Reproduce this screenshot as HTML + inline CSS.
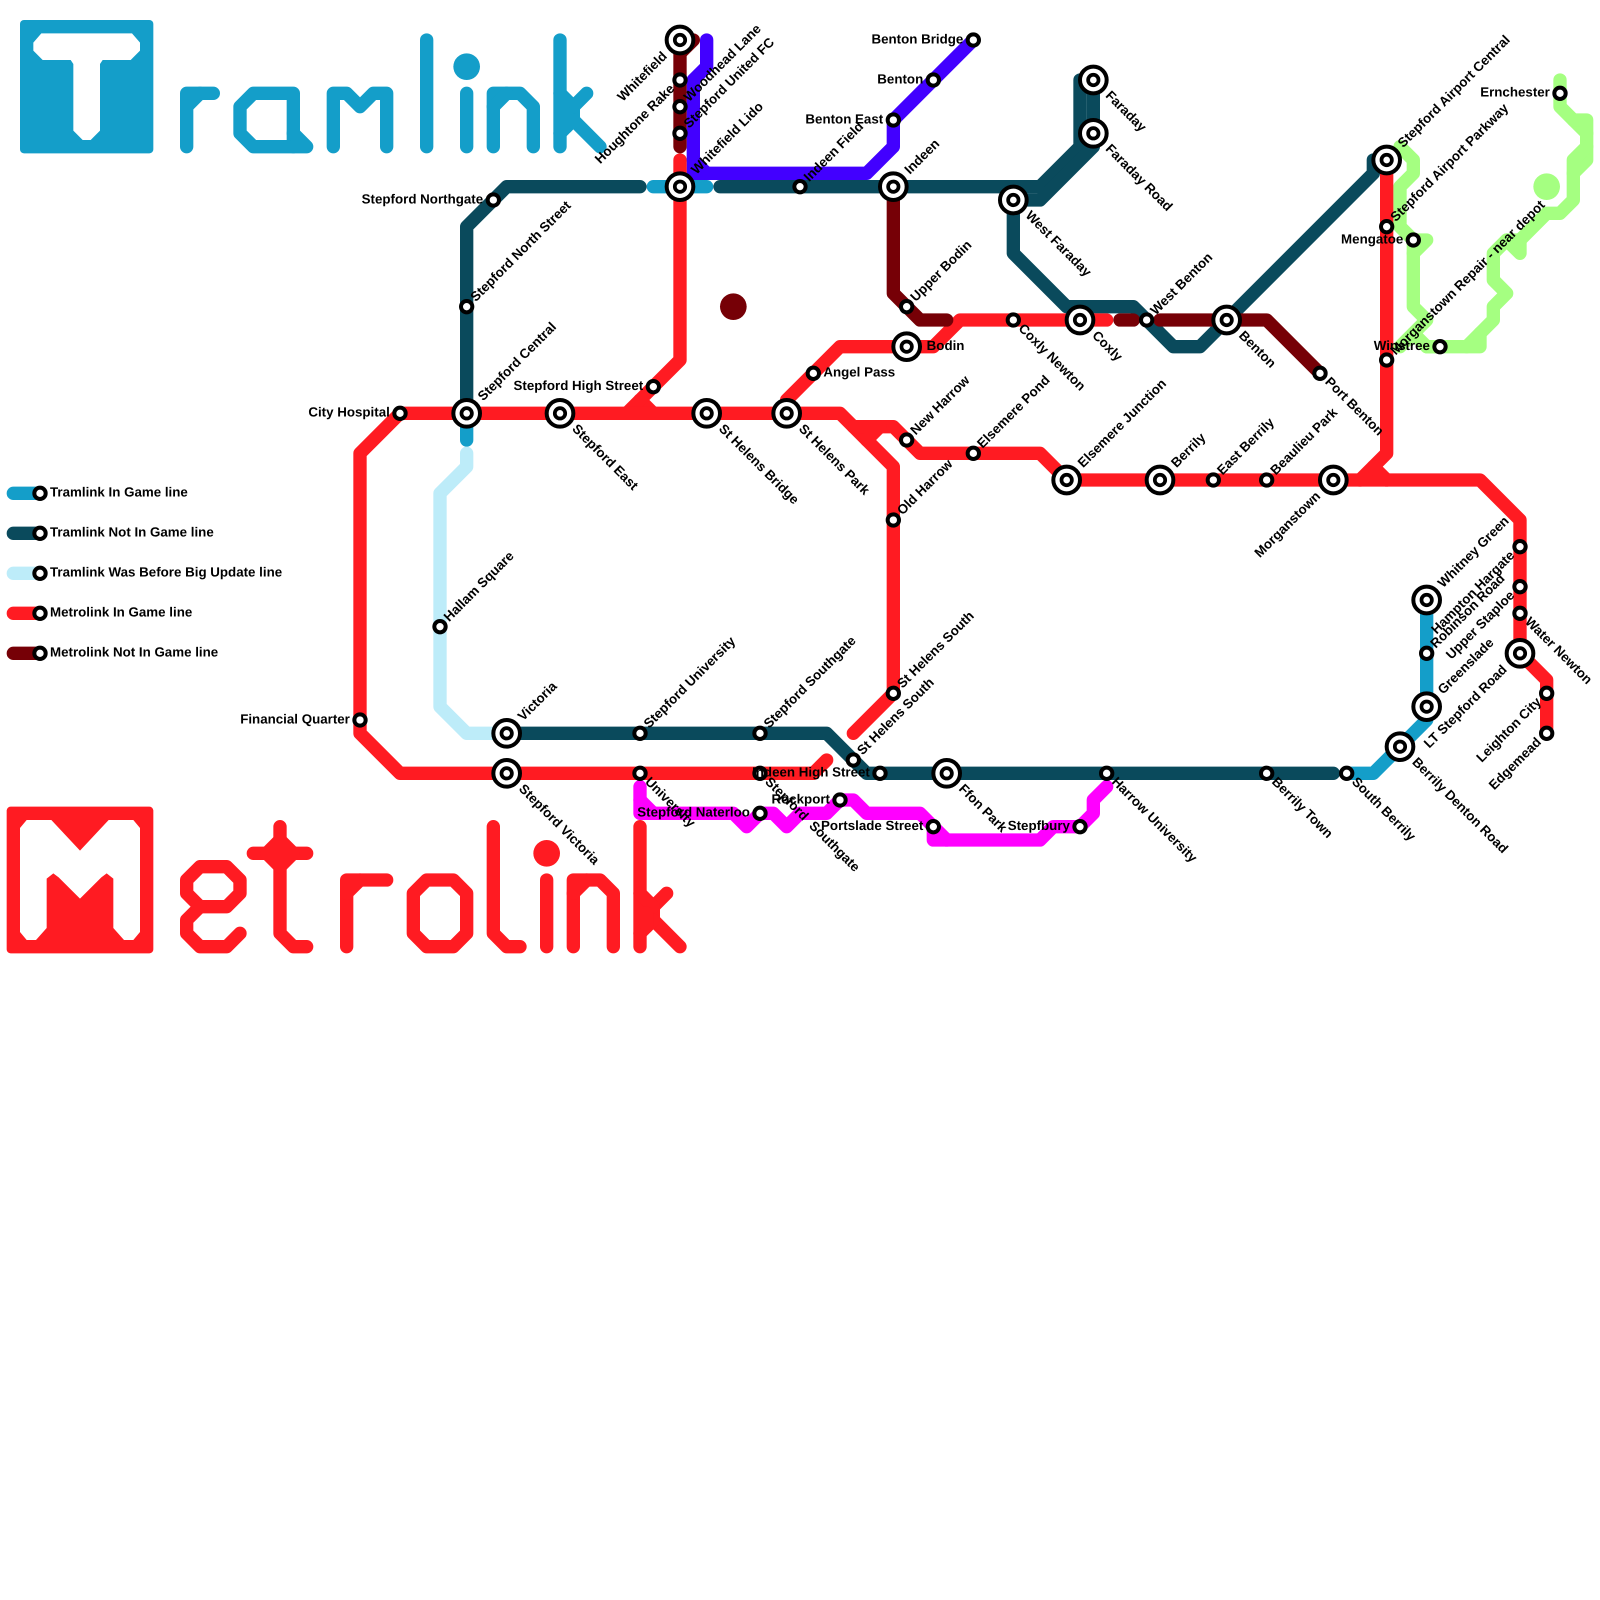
<!DOCTYPE html>
<html><head><meta charset="utf-8"><style>
html,body{margin:0;padding:0;background:#fff}
svg{display:block;width:1600px;height:1600px}
text{font-family:"Liberation Sans",Arial,sans-serif;font-weight:bold;font-size:1px;fill:#000;white-space:pre;text-rendering:geometricPrecision}
polyline{fill:none;stroke-width:1;stroke-linecap:round;stroke-linejoin:round}
.g polyline{stroke:#a5ff81}.l polyline{stroke:#bdecf9}.b polyline{stroke:#149ec9}.t polyline{stroke:#0a4a5c}.p polyline{stroke:#4200ff}.m polyline{stroke:#ff00ff}.r polyline{stroke:#ff1b22}.d polyline{stroke:#760006}
.e{text-anchor:end}
</style></head><body>
<svg xmlns="http://www.w3.org/2000/svg" viewBox="0 0 120 120">
<defs>
<g id="s"><circle r=".425" fill="#fff" stroke="#000" stroke-width=".3"/></g>
<g id="i"><circle r="1" fill="#fff" stroke="#000" stroke-width=".3"/><circle r=".39" fill="#fff" stroke="#000" stroke-width=".28"/></g>
</defs>

<!-- Tramlink logo -->
<rect x="1.5" y="1.5" width="10" height="10" rx=".3" fill="#149ec9"/>
<polygon fill="#fff" points="3.1,2.5 9.9,2.5 10.5,3.2 10.5,3.8 9.8,4.5 7.7,4.5 7.5,4.8 7.5,9.8 6.8,10.5 6.2,10.5 5.5,9.8 5.5,4.8 5.3,4.5 3.2,4.5 2.5,3.8 2.5,3.2"/>
<g class="b">
<polyline points="14,11 14,7 16,7"/><polyline points="14,8 15,7"/>
<polyline points="19,7 22,7 22,11 19,11 18,10 18,8 19,7"/><polyline points="22,10 23,11 22,11"/>
<polyline points="25,11 25,7 26,7 27,8 28,7 29,7 29,11"/>
<polyline points="32,3 32,11"/>
<polyline points="35,7 35,11"/>
<polyline points="37,11 37,7 39,7 40,8 40,11"/><polyline points="38,7 37,8"/>
<polyline points="42,3 42,11"/><polyline points="44,7 43,8 43,9 45,11"/><polyline points="42,7 43,8"/><polyline points="42,10 43,9"/><polyline points="42.5,8.5 42.5,9.5"/>
</g>
<circle cx="35" cy="5" r="1" fill="#149ec9"/>

<!-- Metrolink logo -->
<rect x=".5" y="60.5" width="11" height="11" rx=".3" fill="#ff1b22"/>
<polygon fill="#fff" points="2,61.5 3.85,61.5 6,63.8 8.15,61.5 10,61.5 10.5,62.1 10.5,69.9 10,70.5 9.3,70.5 8.5,69.6 8.5,65.9 8,65.5 7.6,65.8 6,67.4 4.4,65.8 4,65.5 3.5,65.9 3.5,69.6 2.7,70.5 2,70.5 1.5,69.9 1.5,62.1"/>
<g class="r">
<polyline points="15,65 17,65 18,66 18,67 17,68 15,68 14,67 14,66 15,65"/><polyline points="15,68 14,69 14,70 15,71 17,71 18,70"/>
<polyline points="21,62 21,70 22,71 23,71"/><polyline points="19,64 23,64"/><polyline points="20,64 21,63 22,64 21,65 20,64"/>
<polyline points="26,71 26,66 29,66"/><polyline points="27,66 26,67"/>
<polyline points="32,66 34,66 35,67 35,70 34,71 32,71 31,70 31,67 32,66"/>
<polyline points="37,62 37,70 38,71 39,71"/>
<polyline points="41,66 41,71"/>
<polyline points="43,71 43,66 45,66 46,67 46,71"/><polyline points="44,66 43,67"/>
<polyline points="48,62 48,71"/><polyline points="50,67 49,68 49,69 51,71"/><polyline points="48,67 49,68"/><polyline points="48,70 49,69"/><polyline points="48.5,68.5 48.5,69.5"/>
</g>
<circle cx="41" cy="64" r="1" fill="#ff1b22"/>

<!-- Legend lines -->
<g class="b"><polyline points="1,37 3,37"/></g>
<g class="t"><polyline points="1,40 3,40"/></g>
<g class="l"><polyline points="1,43 3,43"/></g>
<g class="r"><polyline points="1,46 3,46"/></g>
<g class="d"><polyline points="1,49 3,49"/></g>

<!-- Green -->
<g class="g">
<polyline points="117,6 117,8 119,10"/><polyline points="118,9 119,9 119,12 118,13"/>
<polyline points="119,11 118,12 118,15 117,16 116,16 114,18 113,18 112,19 112,21 113,22 112,23 112,24 110,26"/>
<polyline points="114,18 114,19 113,18"/>
<polyline points="111,25 111,26 107,26 106,25"/><polyline points="108,26 107,26"/>
<polyline points="105,11 106,12 106,13 105,14 105,17 106,18 107,18 106,19"/>
<polyline points="106,18 106,23 107,24 105,26"/>
</g>
<circle cx="116" cy="14" r="1" fill="#a5ff81"/>

<!-- Light blue -->
<g class="l"><polyline points="35,34 35,35 33,37 33,53 35,55 38,55"/></g>

<!-- Blue -->
<g class="b">
<polyline points="35,31 35,33"/>
<polyline points="49,14 53,14"/>
<polyline points="101,58 103,58 105,56 107,54 107,45"/>
</g>

<!-- Teal -->
<g class="t">
<polyline points="35,31 35,17 38,14 48,14"/>
<polyline points="54,14 78,14 81,11 81,6"/>
<polyline points="76,15 78,15 82,11 82,6"/>
<polyline points="76,15 76,19 80,23 85,23 88,26 90,26 103,13 103,12 104,12"/>
<polyline points="38,55 62,55 65,58 100,58"/>
</g>

<!-- Purple -->
<g class="p">
<polyline points="53,3 53,5 52,6 52,13 65,13 67,11 67,9 73,3"/>
<polyline points="52,12 53,13"/>
</g>

<!-- Magenta -->
<g class="m">
<polyline points="48,59 48,61 55,61 56,62 57,61 58,61 59,62 60,61 62,61 63,60 64,60 65,61 69,61 70,62 70,63 78,63 79,62 81,62 82,61 82,60 83,59"/>
<polyline points="48,60 49,61"/>
<polyline points="70,62 71,63"/>
</g>

<!-- Red -->
<g class="r">
<polyline points="48,30 49,31"/>
<polyline points="51,12 51,27 47,31"/>
<polyline points="61,58 62,57"/>
<polyline points="30,31 63,31 67,35 67,52 64,55"/>
<polyline points="30,31 27,34 27,55 30,58 61,58"/>
<polyline points="64,32 67,32 69,34 78,34 80,36 111,36 114,39 114,49 116,51 116,55"/>
<polyline points="66,32 65,33"/>
<polyline points="59,31 59,30 63,26 70,26 72,24 83,24"/>
<polyline points="104,12 104,34 102,36"/>
<polyline points="103,35 104,36"/>
</g>

<!-- Dark red -->
<g class="d">
<polyline points="51,3 51,11"/><polyline points="52,3 51,4"/>
<polyline points="67,14 67,22 69,24 71,24"/>
<polyline points="84,24 85,24"/>
<polyline points="87,24 95,24 99,28"/>
</g>
<circle cx="55" cy="23" r="1" fill="#760006"/>

<!-- Stations -->
<use href="#s" x="3" y="37"/><use href="#s" x="3" y="40"/><use href="#s" x="3" y="43"/><use href="#s" x="3" y="46"/><use href="#s" x="3" y="49"/>
<use href="#s" x="37" y="15"/><use href="#s" x="35" y="23"/><use href="#s" x="30" y="31"/><use href="#s" x="27" y="54"/><use href="#s" x="33" y="47"/>
<use href="#s" x="49" y="29"/><use href="#s" x="51" y="6"/><use href="#s" x="51" y="8"/><use href="#s" x="51" y="10"/><use href="#s" x="60" y="14"/>
<use href="#s" x="73" y="3"/><use href="#s" x="70" y="6"/><use href="#s" x="67" y="9"/><use href="#s" x="68" y="23"/><use href="#s" x="61" y="28"/>
<use href="#s" x="76" y="24"/><use href="#s" x="86" y="24"/><use href="#s" x="99" y="28"/><use href="#s" x="68" y="33"/><use href="#s" x="73" y="34"/>
<use href="#s" x="67" y="39"/><use href="#s" x="67" y="52"/><use href="#s" x="64" y="57"/><use href="#s" x="48" y="55"/><use href="#s" x="57" y="55"/>
<use href="#s" x="48" y="58"/><use href="#s" x="57" y="58"/><use href="#s" x="66" y="58"/><use href="#s" x="57" y="61"/><use href="#s" x="63" y="60"/>
<use href="#s" x="70" y="62"/><use href="#s" x="81" y="62"/><use href="#s" x="83" y="58"/><use href="#s" x="95" y="58"/><use href="#s" x="101" y="58"/>
<use href="#s" x="91" y="36"/><use href="#s" x="95" y="36"/><use href="#s" x="104" y="17"/><use href="#s" x="106" y="18"/><use href="#s" x="104" y="27"/>
<use href="#s" x="108" y="26"/><use href="#s" x="117" y="7"/><use href="#s" x="114" y="41"/><use href="#s" x="114" y="44"/><use href="#s" x="114" y="46"/>
<use href="#s" x="116" y="52"/><use href="#s" x="116" y="55"/><use href="#s" x="107" y="49"/>
<use href="#i" x="35" y="31"/><use href="#i" x="42" y="31"/><use href="#i" x="53" y="31"/><use href="#i" x="59" y="31"/><use href="#i" x="51" y="3"/>
<use href="#i" x="51" y="14"/><use href="#i" x="67" y="14"/><use href="#i" x="76" y="15"/><use href="#i" x="82" y="6"/><use href="#i" x="82" y="10"/>
<use href="#i" x="68" y="26"/><use href="#i" x="81" y="24"/><use href="#i" x="92" y="24"/><use href="#i" x="80" y="36"/><use href="#i" x="87" y="36"/>
<use href="#i" x="100" y="36"/><use href="#i" x="104" y="12"/><use href="#i" x="38" y="55"/><use href="#i" x="38" y="58"/><use href="#i" x="71" y="58"/>
<use href="#i" x="107" y="45"/><use href="#i" x="107" y="53"/><use href="#i" x="105" y="56"/><use href="#i" x="114" y="49"/>

<!-- Legend text -->
<text x="3.75" y="37.25">Tramlink In Game line</text>
<text x="3.75" y="40.25">Tramlink Not In Game line</text>
<text x="3.75" y="43.25">Tramlink Was Before Big Update line</text>
<text x="3.75" y="46.25">Metrolink In Game line</text>
<text x="3.75" y="49.25">Metrolink Not In Game line</text>

<!-- Horizontal labels -->
<text x="61.75" y="28.25">Angel Pass</text>
<text x="69.5" y="26.25">Bodin</text>
<g class="e">
<text x="36.25" y="15.25">Stepford Northgate</text>
<text x="29.25" y="31.25">City Hospital</text>
<text x="48.25" y="29.25">Stepford High Street</text>
<text x="26.25" y="54.25">Financial Quarter</text>
<text x="72.25" y="3.25">Benton Bridge</text>
<text x="69.25" y="6.25">Benton</text>
<text x="66.25" y="9.25">Benton East</text>
<text x="65.25" y="58.25">Indeen High Street</text>
<text x="62.25" y="60.25">Rockport</text>
<text x="56.25" y="61.25">Stepford Naterloo</text>
<text x="69.25" y="62.25">Portslade Street</text>
<text x="80.25" y="62.25">Stepfbury</text>
<text x="105.25" y="18.25">Mengatoe</text>
<text x="107.25" y="26.25">Winstree</text>
<text x="116.25" y="7.25">Ernchester</text>
</g>

<!-- NE labels: small -->
<text transform="translate(35 23) rotate(-45)" x=".72" y=".25">Stepford North Street</text>
<text transform="translate(33 47) rotate(-45)" x=".72" y=".25">Hallam Square</text>
<text transform="translate(48 55) rotate(-45)" x=".72" y=".25">Stepford University</text>
<text transform="translate(57 55) rotate(-45)" x=".72" y=".25">Stepford Southgate</text>
<text transform="translate(67 52) rotate(-45)" x=".72" y=".25">St Helens South</text>
<text transform="translate(64 57) rotate(-45)" x=".72" y=".25">St Helens South</text>
<text transform="translate(51 8) rotate(-45)" x=".72" y=".25">Woodhead Lane</text>
<text transform="translate(51 10) rotate(-45)" x=".72" y=".25">Stepford United FC</text>
<text transform="translate(60 14) rotate(-45)" x=".72" y=".25">Indeen Field</text>
<text transform="translate(68 23) rotate(-45)" x=".72" y=".25">Upper Bodin</text>
<text transform="translate(68 33) rotate(-45)" x=".72" y=".25">New Harrow</text>
<text transform="translate(73 34) rotate(-45)" x=".72" y=".25">Elsemere Pond</text>
<text transform="translate(67 39) rotate(-45)" x=".72" y=".25">Old Harrow</text>
<text transform="translate(91 36) rotate(-45)" x=".72" y=".25">East Berrily</text>
<text transform="translate(95 36) rotate(-45)" x=".72" y=".25">Beaulieu Park</text>
<text transform="translate(86 24) rotate(-45)" x=".72" y=".25">West Benton</text>
<text transform="translate(104 17) rotate(-45)" x=".72" y=".25">Stepford Airport Parkway</text>
<text transform="translate(104 27) rotate(-45)" x=".72" y=".25">Morganstown Repair - near depot</text>
<text transform="translate(107 49) rotate(-45)" x=".72" y=".25">Robinson Road</text>
<!-- NE labels: interchange -->
<text transform="translate(35 31) rotate(-45)" x="1.5" y=".25">Stepford Central</text>
<text transform="translate(38 55) rotate(-45)" x="1.5" y=".25">Victoria</text>
<text transform="translate(51 14) rotate(-45)" x="1.5" y=".25">Whitefield Lido</text>
<text transform="translate(67 14) rotate(-45)" x="1.5" y=".25">Indeen</text>
<text transform="translate(80 36) rotate(-45)" x="1.5" y=".25">Elsemere Junction</text>
<text transform="translate(87 36) rotate(-45)" x="1.5" y=".25">Berrily</text>
<text transform="translate(104 12) rotate(-45)" x="1.5" y=".25">Stepford Airport Central</text>
<text transform="translate(107 45) rotate(-45)" x="1.5" y=".25">Whitney Green</text>
<text transform="translate(107 53) rotate(-45)" x="1.5" y=".25">Greenslade</text>

<!-- Labels toward lower-left, rotated -45, end-anchored -->
<g class="e">
<text transform="translate(51 3) rotate(-45)" x="-1.55" y=".25">Whitefield</text>
<text transform="translate(100 36) rotate(-45)" x="-1.55" y=".25">Morganstown</text>
<text transform="translate(114 49) rotate(-45)" x="-1.55" y=".25">LT Stepford Road</text>
<text transform="translate(51 6) rotate(-45)" x="-.75" y=".25">Houghtone Rake</text>
<text transform="translate(114 41) rotate(-45)" x="-.75" y=".25">Hampton Hargate</text>
<text transform="translate(114 44) rotate(-45)" x="-.75" y=".25">Upper Staploe</text>
<text transform="translate(116 52) rotate(-45)" x="-.75" y=".25">Leighton City</text>
<text transform="translate(116 55) rotate(-45)" x="-.75" y=".25">Edgemead</text>
</g>

<!-- SE labels -->
<text transform="translate(48 58) rotate(45)" x=".72" y=".25">University</text>
<text transform="translate(57 58) rotate(45)" x=".72" y=".25">Stepford  Southgate</text>
<text transform="translate(83 58) rotate(45)" x=".72" y=".25">Harrow University</text>
<text transform="translate(95 58) rotate(45)" x=".72" y=".25">Berrily Town</text>
<text transform="translate(101 58) rotate(45)" x=".72" y=".25">South Berrily</text>
<text transform="translate(114 46) rotate(45)" x=".72" y=".25">Water Newton</text>
<text transform="translate(76 24) rotate(45)" x=".72" y=".25">Coxly Newton</text>
<text transform="translate(99 28) rotate(45)" x=".72" y=".25">Port Benton</text>
<text transform="translate(42 31) rotate(45)" x="1.48" y=".25">Stepford East</text>
<text transform="translate(53 31) rotate(45)" x="1.48" y=".25">St Helens Bridge</text>
<text transform="translate(59 31) rotate(45)" x="1.48" y=".25">St Helens Park</text>
<text transform="translate(38 58) rotate(45)" x="1.48" y=".25">Stepford Victoria</text>
<text transform="translate(71 58) rotate(45)" x="1.48" y=".25">Ffon Park</text>
<text transform="translate(105 56) rotate(45)" x="1.48" y=".25">Berrily Denton Road</text>
<text transform="translate(82 6) rotate(45)" x="1.48" y=".25">Faraday</text>
<text transform="translate(82 10) rotate(45)" x="1.48" y=".25">Faraday Road</text>
<text transform="translate(76 15) rotate(45)" x="1.48" y=".25">West Faraday</text>
<text transform="translate(81 24) rotate(45)" x="1.48" y=".25">Coxly</text>
<text transform="translate(92 24) rotate(45)" x="1.48" y=".25">Benton</text>
</svg>
</body></html>
